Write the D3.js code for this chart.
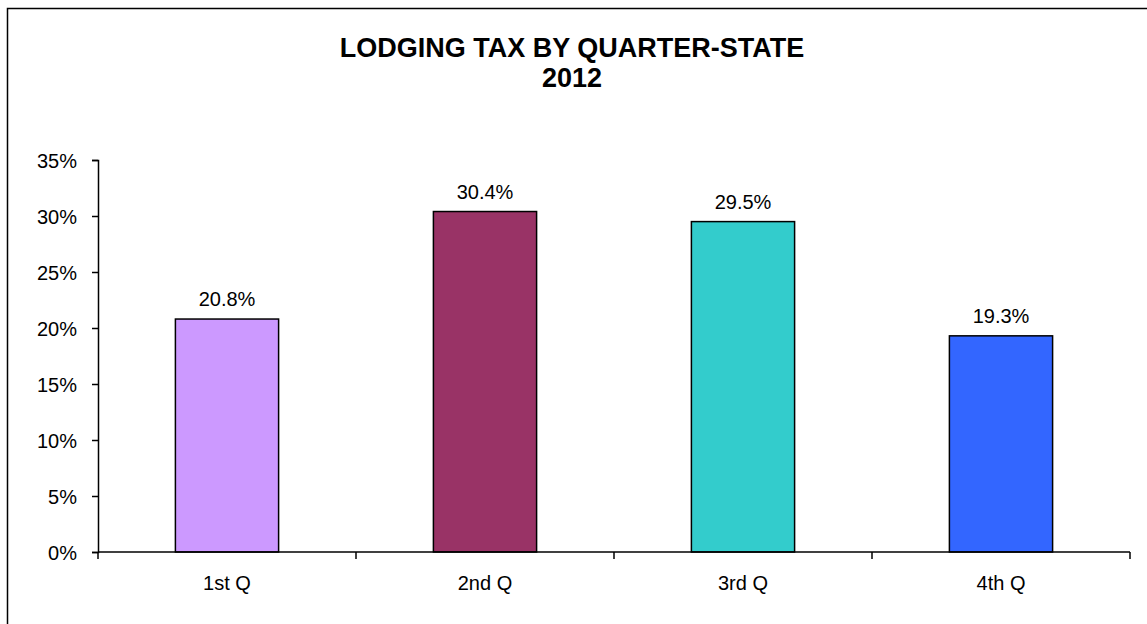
<!DOCTYPE html>
<html>
<head>
<meta charset="utf-8">
<script src="https://cdn.jsdelivr.net/npm/d3@7"></script>
<style>
  body { margin: 0; background: #fff; }
  svg text { font-family: Arial, "Liberation Sans", sans-serif; fill: #000; }
</style>
</head>
<body>
<div id="chart"></div>
<script>
// data
let quarters = ["1st Q", "2nd Q", "3rd Q", "4th Q"];
let shares = [20.8, 30.4, 29.5, 19.3];
let barColors = ["#CC99FF", "#993366", "#33CCCC", "#3366FF"];
let yTicks = [0, 5, 10, 15, 20, 25, 30, 35];
let titleLines = ["LODGING TAX BY QUARTER-STATE", "2012"];

let data = quarters.map((q, i) => ({quarter: q, value: shares[i], color: barColors[i]}));

// CHART AREA
let W = 1147, H = 624;
let margin = {top: 160, right: 17, bottom: 72, left: 98},
    width = 1130 - margin.left,
    height = 552 - margin.top;

let root = d3.select("#chart").append("svg")
    .attr("width", W)
    .attr("height", H);

// outer frame (runs off the right and bottom edge)
root.append("rect")
    .attr("x", 7.5).attr("y", 8.5)
    .attr("width", W + 20).attr("height", H + 20)
    .attr("fill", "none")
    .attr("stroke", "#000")
    .attr("stroke-width", 1.5);

// title
root.append("text")
    .attr("x", 572)
    .attr("text-anchor", "middle")
    .attr("font-size", "27px")
    .attr("font-weight", "bold")
    .selectAll("tspan")
    .data(titleLines)
    .enter()
    .append("tspan")
    .attr("x", 572)
    .attr("y", (d, i) => 57 + i * 30)
    .text(d => d);

let svg = root.append("g")
    .attr("transform", "translate(" + margin.left + "," + margin.top + ")");

// AXIS
let x = d3.scaleBand()
    .domain(quarters)
    .range([0, width])
    .paddingInner(0.6)
    .paddingOuter(0.3);

let xOuter = d3.scaleBand()
    .domain(quarters)
    .range([0, width]);

let y = d3.scaleLinear()
    .domain([0, 35])
    .range([height, 0]);

let yAxis = d3.axisLeft(y)
    .tickValues(yTicks)
    .tickSize(6)
    .tickPadding(15)
    .tickFormat(d => d + "%");

let yAxisGroup = svg.append("g")
    .attr("class", "y-axis axis")
    .call(yAxis);

yAxisGroup.select(".domain").attr("stroke-width", 1.5);
yAxisGroup.selectAll(".tick line").attr("stroke-width", 1.5);
yAxisGroup.selectAll("text")
    .attr("font-size", "20px")
    .attr("dy", "0.36em")
    .attr("font-family", "Arial, 'Liberation Sans', sans-serif");

// ---- DRAW BARS ----
svg.selectAll(".bar")
    .data(data)
    .enter()
    .append("rect")
    .attr("class", "bar")
    .attr("x", d => x(d.quarter))
    .attr("y", d => y(d.value))
    .attr("width", x.bandwidth())
    .attr("height", d => height - y(d.value))
    .attr("fill", d => d.color)
    .attr("stroke", "#000")
    .attr("stroke-width", 1.5);

// value labels
svg.selectAll(".value-label")
    .data(data)
    .enter()
    .append("text")
    .attr("class", "value-label")
    .attr("x", d => x(d.quarter) + x.bandwidth() / 2)
    .attr("y", d => y(d.value) - 13)
    .attr("text-anchor", "middle")
    .attr("font-size", "20px")
    .text(d => d.value.toFixed(1) + "%");

// x axis: category separators as ticks
let xAxisGroup = svg.append("g")
    .attr("class", "x-axis axis")
    .attr("transform", "translate(0," + height + ")");

xAxisGroup.append("line")
    .attr("x1", 0).attr("x2", width)
    .attr("stroke", "#000")
    .attr("stroke-width", 1.5);

let edges = quarters.map(q => xOuter(q)).concat([width]);
xAxisGroup.selectAll(".sep")
    .data(edges)
    .enter()
    .append("line")
    .attr("class", "sep")
    .attr("x1", d => d).attr("x2", d => d)
    .attr("y1", 0).attr("y2", 7)
    .attr("stroke", "#000")
    .attr("stroke-width", 1.5);

xAxisGroup.selectAll(".cat")
    .data(quarters)
    .enter()
    .append("text")
    .attr("class", "cat")
    .attr("x", d => xOuter(d) + xOuter.bandwidth() / 2)
    .attr("y", 38)
    .attr("text-anchor", "middle")
    .attr("font-size", "20px")
    .text(d => d);
</script>
</body>
</html>
